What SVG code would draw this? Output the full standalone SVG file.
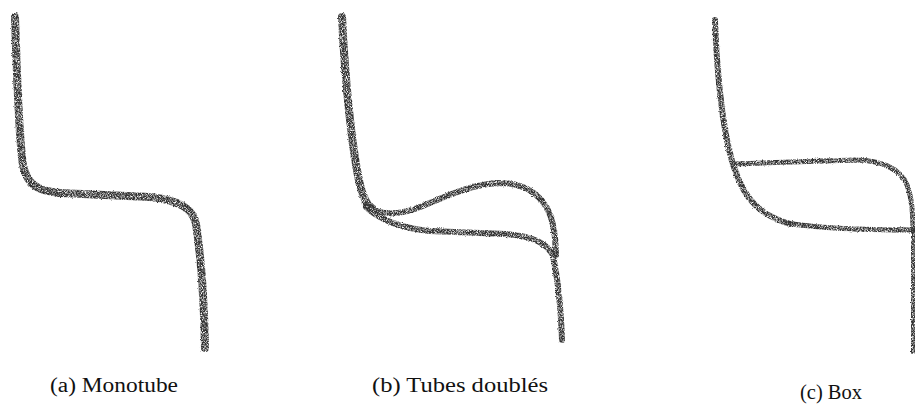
<svg xmlns="http://www.w3.org/2000/svg" width="915" height="405" viewBox="0 0 915 405">
<style>
.p{fill:none;stroke:#333;stroke-linecap:round;stroke-linejoin:round;filter:url(#pencil)}
.w8{stroke-width:8}
.w6{stroke-width:6}
.w5{stroke-width:5}
.w4{stroke-width:4}
.cap{font-family:"Liberation Serif","DejaVu Serif",serif;font-size:20px;fill:#111}
</style>
<defs>
<filter id="pencil" filterUnits="userSpaceOnUse" x="0" y="0" width="915" height="405">
<feTurbulence type="fractalNoise" baseFrequency="1.2" numOctaves="2" seed="3" result="n"/>
<feDisplacementMap in="SourceGraphic" in2="n" scale="2.5" xChannelSelector="R" yChannelSelector="G" result="d"/>
<feColorMatrix in="n" type="matrix" values="0 0 0 0 0 0 0 0 0 0 0 0 0 0 0 2.6 0 0 0 -0.55" result="a"/>
<feComposite in="d" in2="a" operator="in"/>
</filter>
</defs>
<g id="panel-a">
<path class="p w8" d="M15,17 C17,80 19,140 23,165 C27,185 38,191 60,193 L150,197 C178,200 193,208 196,224 C200,250 204,300 205,348"/>
<text class="cap" x="50" y="392" textLength="128" lengthAdjust="spacingAndGlyphs">(a) Monotube</text>
</g>
<g id="panel-b">
<path class="p w8" d="M342,17 C345,80 352,150 360,185 C364,200 368,206 372,208"/>
<path class="p w6" d="M366,205 C380,216 400,215 420,207 C445,197 470,184 500,183 C530,183 548,200 553,225 C556,240 556,250 556,255"/>
<path class="p w6" d="M366,207 C380,220 400,228 430,231 L505,234 C530,236 548,243 553,256 C558,280 561,310 562,340"/>
<text class="cap" x="372" y="392" textLength="176" lengthAdjust="spacingAndGlyphs">(b) Tubes doublés</text>
</g>
<g id="panel-c">
<path class="p w6" d="M715,20 C717,80 724,140 735,170 C745,200 760,215 790,224"/>
<path class="p w5" d="M788,223 C820,229 870,230 915,230"/>
<path class="p w5" d="M733,164 L855,160 C880,160 900,168 907,185 C912,198 913,215 913,230"/>
<path class="p w4" d="M913,230 L913,352"/>
<text class="cap" x="800" y="399" textLength="62" lengthAdjust="spacingAndGlyphs">(c) Box</text>
</g>
</svg>
